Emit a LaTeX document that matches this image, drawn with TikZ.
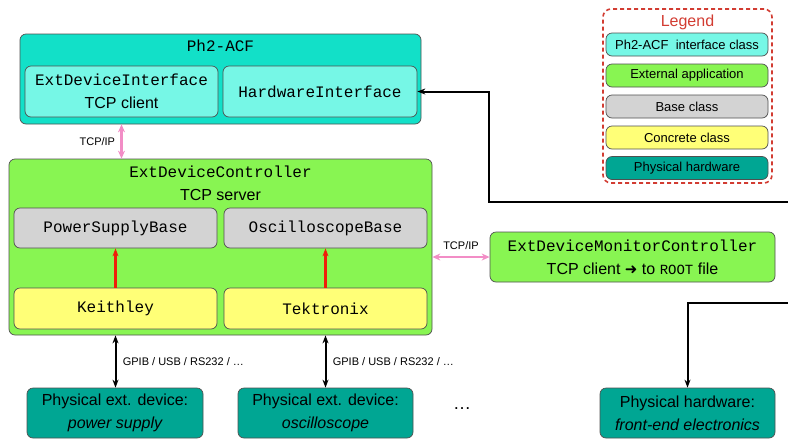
\documentclass[tikz,border=0pt]{standalone}
\usepackage{fontspec}
\setmainfont{Liberation Sans}
\setmonofont{Liberation Mono}
\newfontfamily\symfont{DejaVu Sans}
\usetikzlibrary{arrows.meta,calc}
\definecolor{acfc}{HTML}{12E0C8}
\definecolor{acfin}{HTML}{76F7E6}
\definecolor{extg}{HTML}{88F552}
\definecolor{baseg}{HTML}{D3D3D3}
\definecolor{concy}{HTML}{FFFF77}
\definecolor{phys}{HTML}{00A693}
\definecolor{pinkc}{HTML}{F28DC6}
\definecolor{redc}{HTML}{F01E0A}
\definecolor{bordc}{HTML}{505050}
\definecolor{legred}{HTML}{D23C32}
\newcommand\fsz[2]{\fontsize{#1}{#2}\selectfont}
\begin{document}
\begin{tikzpicture}[x=1pt,y=-1pt,
  box/.style={draw=bordc, line width=0.7pt, rounded corners=6pt, inner sep=0pt, align=center},
  big/.style={font=\fsz{16}{23}},
  legitem/.style={box, minimum width=162pt, minimum height=23pt, font=\fsz{13}{15}},
  small/.style={font=\fsz{11}{13}},
  pinkarr/.style={draw=pinkc, line width=2.2pt, {Stealth[length=8pt,width=7pt]}-{Stealth[length=8pt,width=7pt]}},
  redarr/.style={draw=redc, line width=2.2pt, -{Stealth[length=8pt,width=6pt]}},
  blkarr/.style={draw=black, line width=2pt},
  dbl/.style={{Stealth[length=8pt,width=6pt]}-{Stealth[length=8pt,width=6pt]}},
  sgl/.style={-{Stealth[length=8pt,width=6pt]}}
]
\useasboundingbox (0,0) rectangle (788,440);

% Ph2-ACF
\node[box, fill=acfc, minimum width=401pt, minimum height=90pt] (acf) at (220.5,79) {};
\node[font=\fsz{16}{23}\ttfamily] (acft) at (220.5,46) {Ph2-ACF};
\node[box, big, fill=acfin, minimum width=193pt, minimum height=51pt] (edi) at (121.5,91.5)
  {{\ttfamily ExtDeviceInterface}\\TCP client};
\node[box, fill=acfin, minimum width=194pt, minimum height=51pt, font=\fsz{16}{23}\ttfamily] (hwi) at (320,91.5) {HardwareInterface};

% ExtDeviceController
\node[box, fill=extg, minimum width=423pt, minimum height=176pt] (edc) at (220.5,247) {};
\node[font=\fsz{16}{23}\ttfamily] (edct) at (220.5,172) {ExtDeviceController};
\node[big] (tcps) at (220.5,195) {TCP server};
\node[box, fill=baseg, minimum width=203pt, minimum height=40pt, font=\fsz{16}{23}\ttfamily] (psb) at (115.5,228) {PowerSupplyBase};
\node[box, fill=baseg, minimum width=203pt, minimum height=40pt, font=\fsz{16}{23}\ttfamily] (osb) at (325.5,228) {OscilloscopeBase};
\node[box, fill=concy, minimum width=203pt, minimum height=41pt, font=\fsz{16}{23}\ttfamily] (kei) at (115.5,308.5) {Keithley};
\node[box, fill=concy, minimum width=203pt, minimum height=41pt, font=\fsz{16}{23}\ttfamily] (tek) at (325.5,308.5) {Tektronix};
\draw[redarr] (kei.north) -- (psb.south);
\draw[redarr] (tek.north) -- (osb.south);

% pink TCP/IP links
\draw[pinkarr] (edi.south |- acf.south) -- node[left, small, xshift=-2pt] (tcp1) {TCP/IP} (edi.south |- edc.north);

% monitor controller
\node[box, big, fill=extg, minimum width=285pt, minimum height=50pt] (edmc) at (632.5,257)
  {{\ttfamily ExtDeviceMonitorController}\\TCP client {\symfont\fsz{15}{23}➜} to {\ttfamily\fsz{14}{23}ROOT} file};
\draw[pinkarr] (edmc.west -| edc.east) -- node[above, small, yshift=3pt] (tcp2) {TCP/IP} (edmc.west);

% physical devices
\node[box, big, fill=phys, minimum width=176pt, minimum height=50pt] (pes) at (115,413)
  {Physical ext. device:\\\itshape power supply};
\node[box, big, fill=phys, minimum width=175pt, minimum height=50pt] (pos) at (325.5,413)
  {Physical ext. device:\\\itshape oscilloscope};
\node[font=\fsz{18}{20}] (dots) at (462,409) {\ldots};
\node[box, big, fill=phys, minimum width=175pt, minimum height=50pt] (phw) at (687.5,413)
  {Physical hardware:\\\itshape front-end electronics};

\draw[blkarr, dbl] (kei.south |- edc.south) -- node[right, small, xshift=3pt] (gp1) {GPIB / USB / RS232 / \ldots} (kei.south |- pes.north);
\draw[blkarr, dbl] (tek.south |- edc.south) -- node[right, small, xshift=3pt] (gp2) {GPIB / USB / RS232 / \ldots} (tek.south |- pos.north);

% hardware connection loop
\coordinate (e1) at (788,202);
\coordinate (t1) at (488.5,202);
\coordinate (e2) at (788,303);
\draw[blkarr, sgl] (e1) -- (t1) |- (hwi.east);
\draw[blkarr, sgl] (e2) -| (phw.north);

% legend
\node[draw=legred, line width=1.6pt, dash pattern=on 4pt off 3pt, rounded corners=8pt, minimum width=169pt, minimum height=174pt] (leg) at (687.5,96) {};
\node[text=legred, font=\fsz{16}{18}] (legt) at (687.5,22) {Legend};
\node[legitem, fill=acfin] (l1) at (687,44.5) {Ph2-ACF\ \ interface class};
\node[legitem, fill=extg] (l2) at (687,75.5) {External application};
\node[legitem, fill=baseg] (l3) at (687,106.5) {Base class};
\node[legitem, fill=concy] (l4) at (687,137.5) {Concrete class};
\node[legitem, fill=phys] (l5) at (687,168) {Physical hardware};
\end{tikzpicture}
\end{document}
